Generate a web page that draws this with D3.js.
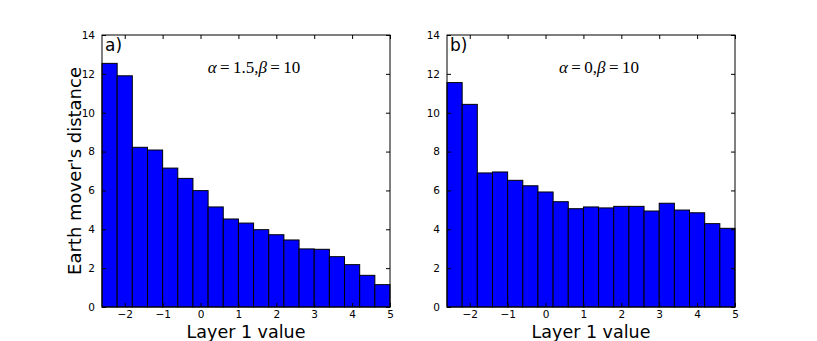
<!DOCTYPE html>
<html>
<head>
<meta charset="utf-8">
<script src="https://cdn.jsdelivr.net/npm/d3@7"></script>
<style>
  body { margin: 0; background: #fff; }
  svg { display: block; }
  text { font-family: "DejaVu Sans", sans-serif; fill: #000; }
</style>
</head>
<body>
<svg id="chart" width="817" height="341"></svg>
<script>
// bin left edges (width 0.4) shared by both panels
var binStarts = [-2.6, -2.2, -1.8, -1.4, -1.0, -0.6, -0.2, 0.2, 0.6, 1.0, 1.4, 1.8, 2.2, 2.6, 3.0, 3.4, 3.8, 4.2, 4.6];
var binWidth = 0.4;
var valuesA = [12.54, 11.9, 8.22, 8.08, 7.15, 6.62, 5.99, 5.15, 4.53, 4.32, 3.98, 3.72, 3.45, 2.99, 2.97, 2.59, 2.18, 1.63, 1.15];
var valuesB = [11.55, 10.43, 6.9, 6.95, 6.52, 6.24, 5.92, 5.42, 5.06, 5.15, 5.1, 5.18, 5.18, 4.94, 5.34, 4.99, 4.85, 4.29, 4.05];
var xTicks = [-2, -1, 0, 1, 2, 3, 4, 5];
var yTicks = [0, 2, 4, 6, 8, 10, 12, 14];

var svg = d3.select('#chart');

function minus(v) { return v < 0 ? '\u2212' + Math.abs(v) : String(v); }

function drawPanel(opts) {
  var x = d3.scaleLinear().domain([-2.6, 5]).range([opts.left, opts.right]);
  var y = d3.scaleLinear().domain([0, 14]).range([307, 35]);
  var g = svg.append('g');

  g.selectAll('rect.bar')
    .data(opts.values)
    .enter().append('rect')
    .attr('class', 'bar')
    .attr('x', function(d, i) { return x(binStarts[i]); })
    .attr('width', function(d, i) { return x(binStarts[i] + binWidth) - x(binStarts[i]); })
    .attr('y', function(d) { return y(d); })
    .attr('height', function(d) { return y(0) - y(d); })
    .attr('fill', '#0000ff')
    .attr('stroke', '#000')
    .attr('stroke-width', 1);

  // inside ticks on all four sides, matplotlib classic style
  var tickLen = 4;
  var bottom = g.append('g').attr('transform', 'translate(0,307)')
    .call(d3.axisBottom(x).tickValues(xTicks).tickSize(-tickLen).tickPadding(4).tickFormat(minus));
  var top = g.append('g').attr('transform', 'translate(0,35)')
    .call(d3.axisTop(x).tickValues(xTicks).tickSize(-tickLen).tickFormat(''));
  var left = g.append('g').attr('transform', 'translate(' + opts.left + ',0)')
    .call(d3.axisLeft(y).tickValues(yTicks).tickSize(-tickLen).tickPadding(7));
  var right = g.append('g').attr('transform', 'translate(' + opts.right + ',0)')
    .call(d3.axisRight(y).tickValues(yTicks).tickSize(-tickLen).tickFormat(''));

  [bottom, top, left, right].forEach(function(a) {
    a.select('.domain').remove();
    a.selectAll('line').attr('stroke', '#000');
    a.selectAll('text').style('font-family', '"DejaVu Sans", sans-serif').style('font-size', '10.5px');
  });

  g.append('rect')
    .attr('x', opts.left).attr('y', 35)
    .attr('width', opts.right - opts.left).attr('height', 272)
    .attr('fill', 'none').attr('stroke', '#000').attr('stroke-width', 1);

  g.append('text')
    .attr('x', opts.left + 3).attr('y', 51)
    .style('font-size', '17px')
    .text(opts.tag);

  var ann = g.append('text')
    .attr('x', (opts.left + opts.right) / 2 + 8).attr('y', 73)
    .attr('text-anchor', 'middle')
    .style('font-family', '"Liberation Serif", "DejaVu Serif", serif')
    .style('font-size', '17px');
  ann.append('tspan').style('font-style', 'italic').text('\u03b1');
  ann.append('tspan').text('\u2009=\u2009' + opts.alpha + ',');
  ann.append('tspan').style('font-style', 'italic').text('\u03b2');
  ann.append('tspan').text('\u2009=\u200910');

  g.append('text')
    .attr('x', (opts.left + opts.right) / 2).attr('y', 338)
    .attr('text-anchor', 'middle')
    .style('font-size', '17.5px')
    .text('Layer 1 value');
}

drawPanel({ left: 102, right: 390, values: valuesA, tag: 'a)', alpha: '1.5' });
drawPanel({ left: 447, right: 735, values: valuesB, tag: 'b)', alpha: '0' });

svg.append('text')
  .attr('transform', 'translate(81,171) rotate(-90)')
  .attr('text-anchor', 'middle')
  .style('font-size', '18px')
  .text("Earth mover's distance");
</script>
</body>
</html>
